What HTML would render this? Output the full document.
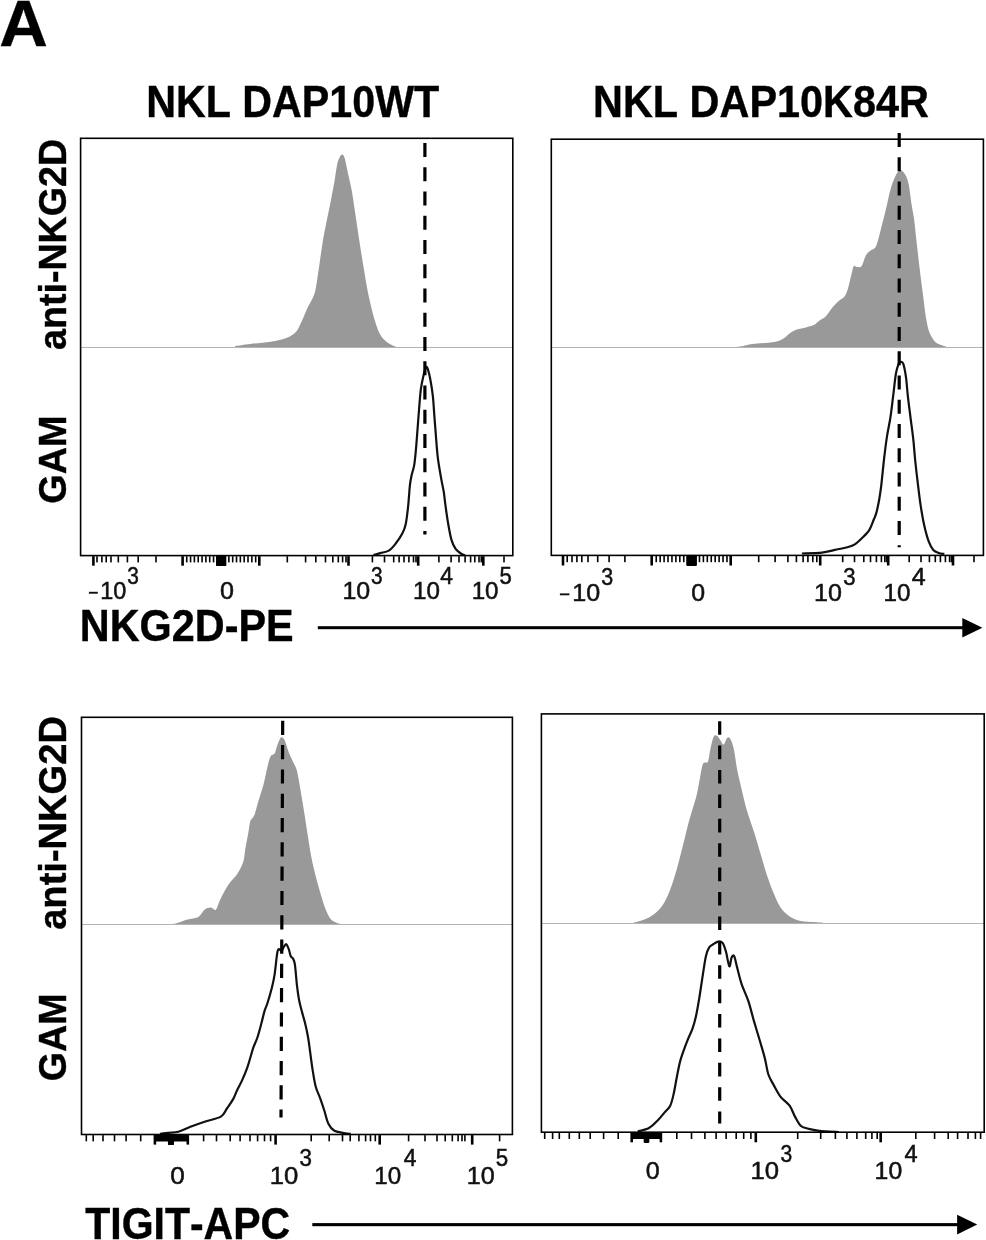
<!DOCTYPE html>
<html><head><meta charset="utf-8"><title>Figure A</title>
<style>html,body{margin:0;padding:0;background:#fff;width:986px;height:1240px;overflow:hidden;position:relative}
text{font-family:"Liberation Sans",sans-serif;font-kerning:none}
svg{will-change:transform}</style></head>
<body>
<svg width="986" height="1240" viewBox="0 0 986 1240" style="position:absolute;left:0;top:0" font-family='"Liberation Sans", sans-serif'>
<rect width="986" height="1240" fill="#fff"/>
<text x="-0.67" y="45.9" font-size="64.5" font-weight="bold" textLength="48.55" lengthAdjust="spacingAndGlyphs" stroke="#000" stroke-width="0.4">A</text>
<text x="146.14" y="116.8" font-size="43.7" font-weight="bold" textLength="293.1" lengthAdjust="spacingAndGlyphs" stroke="#000" stroke-width="0.4">NKL DAP10WT</text>
<text x="593.03" y="116.8" font-size="43.7" font-weight="bold" textLength="335.92" lengthAdjust="spacingAndGlyphs" stroke="#000" stroke-width="0.4">NKL DAP10K84R</text>
<text transform="translate(65.9,350) rotate(-90)" x="0" y="0" font-size="38.3" font-weight="bold" textLength="211.18" lengthAdjust="spacingAndGlyphs" stroke="#000" stroke-width="0.4">anti-NKG2D</text>
<text transform="translate(66,503.65) rotate(-90)" x="0" y="0" font-size="38.3" font-weight="bold" textLength="88.18" lengthAdjust="spacingAndGlyphs" stroke="#000" stroke-width="0.4">GAM</text>
<text transform="translate(66.1,929.82) rotate(-90)" x="0" y="0" font-size="38.3" font-weight="bold" textLength="213.72" lengthAdjust="spacingAndGlyphs" stroke="#000" stroke-width="0.4">anti-NKG2D</text>
<text transform="translate(66.1,1081.24) rotate(-90)" x="0" y="0" font-size="38.3" font-weight="bold" textLength="87.76" lengthAdjust="spacingAndGlyphs" stroke="#000" stroke-width="0.4">GAM</text>
<path d="M235.2,347.5 L235.2,345.9 C237.73,345.57 244.48,344.58 250.4,343.9 C256.32,343.22 264.62,342.82 270.7,341.8 C276.78,340.78 282.67,339.48 286.9,337.8 C291.13,336.12 293.73,334.23 296.1,331.7 C298.47,329.17 299.25,326.48 301.1,322.6 C302.95,318.72 305,313.13 307.2,308.4 C309.4,303.67 312.6,299.28 314.3,294.2 C316,289.12 316.38,284 317.4,277.9 C318.42,271.8 319.4,264.35 320.4,257.6 C321.4,250.85 322.22,244.15 323.4,237.4 C324.58,230.65 326.13,223.87 327.5,217.1 C328.87,210.33 330.42,202.88 331.6,196.8 C332.78,190.72 333.67,186.02 334.6,180.6 C335.53,175.18 336.35,168.2 337.2,164.3 C338.05,160.4 338.85,158.82 339.7,157.2 C340.55,155.58 341.47,154.42 342.3,154.6 C343.13,154.78 343.78,155.32 344.7,158.3 C345.62,161.28 346.62,167.1 347.8,172.5 C348.98,177.9 350.62,184.28 351.8,190.7 C352.98,197.12 353.88,204.23 354.9,211 C355.92,217.77 356.88,224.53 357.9,231.3 C358.92,238.07 359.98,245.18 361,251.6 C362.02,258.02 362.98,263.72 364,269.8 C365.02,275.88 366.08,282.68 367.1,288.1 C368.12,293.52 368.92,297.23 370.1,302.3 C371.28,307.37 372.68,313.43 374.2,318.5 C375.72,323.57 377.35,328.98 379.2,332.7 C381.05,336.42 383.1,338.7 385.3,340.8 C387.5,342.9 390.53,344.28 392.4,345.3 C394.27,346.32 395.82,346.63 396.5,346.9 L396.5,347.5 Z" fill="#999"/>
<path d="M730,347.5 L730,347.5 C732.23,347.23 739.68,346.47 743.4,345.9 C747.12,345.33 747.1,344.77 752.3,344.1 C757.5,343.43 769.4,342.83 774.6,341.9 C779.8,340.97 780.9,339.98 783.5,338.5 C786.1,337.02 787.97,334.48 790.2,333 C792.43,331.52 794.28,330.53 796.9,329.6 C799.52,328.67 803.1,328.15 805.9,327.4 C808.7,326.65 811.48,326.22 813.7,325.1 C815.92,323.98 817.17,322.18 819.2,320.7 C821.23,319.22 823.67,318.43 825.9,316.2 C828.13,313.97 830.37,309.9 832.6,307.3 C834.83,304.7 837.25,302.47 839.3,300.6 C841.35,298.73 843.4,298.33 844.9,296.1 C846.4,293.87 847.18,290.92 848.3,287.2 C849.42,283.48 850.68,277.33 851.6,273.8 C852.52,270.27 852.87,267.12 853.8,266 C854.73,264.88 855.9,267.1 857.2,267.1 C858.5,267.1 860.12,268.03 861.6,266 C863.08,263.97 864.6,257.5 866.1,254.9 C867.6,252.3 868.93,251.9 870.6,250.4 C872.27,248.9 874.25,249.98 876.1,245.9 C877.95,241.82 880.02,232.22 881.7,225.9 C883.38,219.58 884.72,214.15 886.2,208 C887.68,201.85 889.12,194.2 890.6,189 C892.08,183.8 893.8,179.77 895.1,176.8 C896.4,173.83 897.47,172.32 898.4,171.2 C899.33,170.08 899.58,169.55 900.7,170.1 C901.82,170.65 903.8,172.27 905.1,174.5 C906.4,176.73 907.38,178.28 908.5,183.5 C909.62,188.72 910.87,199.85 911.8,205.8 C912.73,211.75 913.35,213.63 914.1,219.2 C914.85,224.77 915.38,231.02 916.3,239.2 C917.22,247.38 918.48,259 919.6,268.3 C920.72,277.6 921.88,286.45 923,295 C924.12,303.55 925.18,313.27 926.3,319.6 C927.42,325.93 928.2,329.28 929.7,333 C931.2,336.72 933.25,339.87 935.3,341.9 C937.35,343.93 939.77,344.27 942,345.2 C944.23,346.13 947.58,347.12 948.7,347.5 L948.7,347.5 Z" fill="#999"/>
<path d="M168.1,924.5 L168.1,924.9 C169.8,924.55 175.25,923.65 178.3,922.8 C181.35,921.95 183.37,920.63 186.4,919.8 C189.43,918.97 194.13,918.65 196.5,917.8 C198.87,916.95 199.25,916.05 200.6,914.7 C201.95,913.35 202.92,910.88 204.6,909.7 C206.28,908.52 208.83,907.6 210.7,907.6 C212.57,907.6 214.28,910.88 215.8,909.7 C217.32,908.52 218.28,903.72 219.8,900.5 C221.32,897.28 223.03,893.6 224.9,890.4 C226.77,887.2 228.97,884 231,881.3 C233.03,878.6 235.07,877.42 237.1,874.2 C239.13,870.98 241.85,866.07 243.2,862 C244.55,857.93 244.37,854.53 245.2,849.8 C246.03,845.07 247.35,838.33 248.2,833.6 C249.05,828.87 249.28,824.45 250.3,821.4 C251.32,818.35 252.95,818.68 254.3,815.3 C255.65,811.92 256.88,806.17 258.4,801.1 C259.92,796.03 261.88,790.63 263.4,784.9 C264.92,779.17 266.32,771.43 267.5,766.7 C268.68,761.97 269.32,758.7 270.5,756.5 C271.68,754.3 273.58,755.02 274.6,753.5 C275.62,751.98 275.75,749.77 276.6,747.4 C277.45,745.03 278.85,741 279.7,739.3 C280.55,737.6 280.87,737.03 281.7,737.2 C282.53,737.37 283.52,737.75 284.7,740.3 C285.88,742.85 287.27,748.62 288.8,752.5 C290.33,756.38 292.55,760.57 293.9,763.6 C295.25,766.63 295.88,766.82 296.9,770.7 C297.92,774.58 299.15,782.17 300,786.9 C300.85,791.63 301.17,794.02 302,799.1 C302.83,804.18 303.98,810.98 305,817.4 C306.02,823.82 307.08,831.18 308.1,837.6 C309.12,844.02 309.92,849.8 311.1,855.9 C312.28,862 313.68,868.12 315.2,874.2 C316.72,880.28 318.52,886.67 320.2,892.4 C321.88,898.13 323.6,904.2 325.3,908.6 C327,913 328.53,916.43 330.4,918.8 C332.27,921.17 334.47,921.85 336.5,922.8 C338.53,923.75 341.58,924.22 342.6,924.5 L342.6,924.5 Z" fill="#999"/>
<path d="M633.4,923.5 L633.4,922.7 C634.52,922.4 637.5,921.77 640.1,920.9 C642.7,920.03 646.03,919.18 649,917.5 C651.97,915.82 655.3,913.4 657.9,910.8 C660.5,908.2 662.55,905.43 664.6,901.9 C666.65,898.37 668.52,893.87 670.2,889.6 C671.88,885.33 673.22,881.13 674.7,876.3 C676.18,871.47 677.62,866.18 679.1,860.6 C680.58,855.02 682.12,848.75 683.6,842.8 C685.08,836.85 686.52,830.48 688,824.9 C689.48,819.32 691,814.5 692.5,809.3 C694,804.1 695.7,799.27 697,793.7 C698.3,788.13 699.37,780.73 700.3,775.9 C701.23,771.07 701.85,766.93 702.6,764.7 C703.35,762.47 703.88,763.05 704.8,762.5 C705.72,761.95 707.17,763.63 708.1,761.4 C709.03,759.17 709.47,753.2 710.4,749.1 C711.33,745 712.58,739.03 713.7,736.8 C714.82,734.57 715.98,735.13 717.1,735.7 C718.22,736.27 719.3,738.72 720.4,740.2 C721.5,741.68 722.58,744.98 723.7,744.6 C724.82,744.22 725.98,738.83 727.1,737.9 C728.22,736.97 729.28,737.13 730.4,739 C731.52,740.87 732.68,744.07 733.8,749.1 C734.92,754.13 735.8,762.52 737.1,769.2 C738.4,775.88 739.92,782.13 741.6,789.2 C743.28,796.27 745.15,804.53 747.2,811.6 C749.25,818.67 751.67,824.53 753.9,831.6 C756.13,838.67 758.37,846.55 760.6,854 C762.83,861.45 765.07,869.62 767.3,876.3 C769.53,882.98 771.78,888.9 774,894.1 C776.22,899.3 778,903.78 780.6,907.5 C783.2,911.22 786.25,914.17 789.6,916.4 C792.95,918.63 796.62,919.97 800.7,920.9 C804.78,921.83 810.38,921.7 814.1,922 C817.82,922.3 821.52,922.58 823,922.7 L823,923.5 Z" fill="#999"/>
<rect x="80.5" y="347" width="432" height="1" fill="#b3b3b3"/>
<rect x="551.5" y="347" width="432" height="1" fill="#b3b3b3"/>
<rect x="81.5" y="924" width="431" height="1" fill="#b3b3b3"/>
<rect x="541.5" y="923" width="442.5" height="1" fill="#b3b3b3"/>
<path d="M373.5,555.1 C374.63,554.77 377.75,553.85 380.3,553.1 C382.85,552.35 386.27,552.15 388.8,550.6 C391.33,549.05 393.25,546.63 395.5,543.8 C397.75,540.97 400.6,536.85 402.3,533.6 C404,530.35 404.72,528.95 405.7,524.3 C406.68,519.65 407.5,512.18 408.2,505.7 C408.9,499.22 409.33,490.47 409.9,485.4 C410.47,480.33 410.88,478.68 411.6,475.3 C412.32,471.92 413.48,469.33 414.2,465.1 C414.92,460.87 415.35,455.82 415.9,449.9 C416.45,443.98 416.95,436.67 417.5,429.6 C418.05,422.53 418.63,414.28 419.2,407.5 C419.77,400.72 420.18,394.25 420.9,388.9 C421.62,383.55 422.7,378.92 423.5,375.4 C424.3,371.88 425.22,369.22 425.7,367.8 C426.18,366.38 426.07,366.77 426.4,366.9 C426.73,367.03 427.07,366.62 427.7,368.6 C428.33,370.58 429.35,374.28 430.2,378.8 C431.05,383.32 432.08,389.22 432.8,395.7 C433.52,402.18 433.93,410.37 434.5,417.7 C435.07,425.03 435.63,432.93 436.2,439.7 C436.77,446.47 437.07,451.82 437.9,458.3 C438.73,464.78 440.22,472.95 441.2,478.6 C442.18,484.25 443.08,487.68 443.8,492.2 C444.52,496.72 444.8,500.63 445.5,505.7 C446.2,510.77 447.02,516.95 448,522.6 C448.98,528.25 450.13,535.22 451.4,539.6 C452.67,543.98 453.9,546.5 455.6,548.9 C457.3,551.3 460.03,552.97 461.6,554 C463.17,555.03 464.43,554.92 465,555.1" fill="none" stroke="#111" stroke-width="2.2" stroke-linejoin="round"/>
<path d="M801.9,553.5 C805.25,553.35 816.52,553.2 822,552.6 C827.48,552 830.55,550.8 834.8,549.9 C839.05,549 844.17,548.12 847.5,547.2 C850.83,546.28 852.37,545.93 854.8,544.4 C857.23,542.87 859.67,540.43 862.1,538 C864.53,535.57 867.45,532.88 869.4,529.8 C871.35,526.72 872.67,522.23 873.8,519.5 C874.93,516.77 875.57,515.4 876.2,513.4 C876.83,511.4 877.08,509.9 877.6,507.5 C878.12,505.1 878.68,502.73 879.3,499 C879.92,495.27 880.52,491.68 881.3,485.1 C882.08,478.52 883.08,467.42 884,459.5 C884.92,451.58 885.73,444.6 886.8,437.6 C887.87,430.6 889.33,424.5 890.4,417.5 C891.47,410.5 892.28,402.9 893.2,395.6 C894.12,388.3 894.98,379.02 895.9,373.7 C896.82,368.38 897.93,365.67 898.7,363.7 C899.47,361.73 899.75,361.9 900.5,361.9 C901.25,361.9 902.28,361.12 903.2,363.7 C904.12,366.28 905.23,372.08 906,377.4 C906.77,382.72 907.05,388.92 907.8,395.6 C908.55,402.28 909.58,410.2 910.5,417.5 C911.42,424.8 912.53,432.4 913.3,439.4 C914.07,446.4 914.35,452.18 915.1,459.5 C915.85,466.82 916.88,475.68 917.8,483.3 C918.72,490.92 919.53,498.22 920.6,505.2 C921.67,512.18 922.83,519.12 924.2,525.2 C925.57,531.28 927.28,537.58 928.8,541.7 C930.32,545.82 931.63,548.02 933.3,549.9 C934.97,551.78 936.97,552.33 938.8,553 C940.63,553.67 943.38,553.75 944.3,553.9" fill="none" stroke="#111" stroke-width="2.2" stroke-linejoin="round"/>
<path d="M160,1133.9 C161.35,1133.72 165.05,1133.15 168.1,1132.8 C171.15,1132.45 174.58,1132.8 178.3,1131.8 C182.02,1130.8 186.02,1128.48 190.4,1126.8 C194.78,1125.12 199.52,1123.4 204.6,1121.7 C209.68,1120 217.18,1118.8 220.9,1116.6 C224.62,1114.4 224.88,1111.37 226.9,1108.5 C228.92,1105.63 231.3,1102.45 233,1099.4 C234.7,1096.35 235.57,1093.42 237.1,1090.2 C238.63,1086.98 240.52,1083.82 242.2,1080.1 C243.88,1076.38 245.85,1071.62 247.2,1067.9 C248.55,1064.18 249.28,1061.18 250.3,1057.8 C251.32,1054.42 252.12,1050.98 253.3,1047.6 C254.48,1044.22 256.05,1041.55 257.4,1037.5 C258.75,1033.45 260.22,1027.7 261.4,1023.3 C262.58,1018.9 263.48,1014.48 264.5,1011.1 C265.52,1007.72 266.32,1006.72 267.5,1003 C268.68,999.28 270.42,993.53 271.6,988.8 C272.78,984.07 273.6,980.85 274.6,974.6 C275.6,968.35 276.58,955.35 277.6,951.3 C278.62,947.25 280.02,950.3 280.7,950.3 C281.38,950.3 281.2,951.82 281.7,951.3 C282.2,950.78 282.95,948.38 283.7,947.2 C284.45,946.02 285.35,943.85 286.2,944.2 C287.05,944.55 288.03,947.27 288.8,949.3 C289.57,951.33 290.12,954.88 290.8,956.4 C291.48,957.92 292.22,957.05 292.9,958.4 C293.58,959.75 294.23,960.1 294.9,964.5 C295.57,968.9 296.23,979.05 296.9,984.8 C297.57,990.55 298.18,994.95 298.9,999 C299.62,1003.05 300.17,1005.05 301.2,1009.1 C302.23,1013.15 303.95,1018.57 305.1,1023.3 C306.25,1028.03 307.27,1032.77 308.1,1037.5 C308.93,1042.23 309.4,1046.63 310.1,1051.7 C310.8,1056.77 311.38,1062.15 312.3,1067.9 C313.22,1073.65 314.28,1081.12 315.6,1086.2 C316.92,1091.28 318.75,1094.35 320.2,1098.4 C321.65,1102.45 322.93,1106.28 324.3,1110.5 C325.67,1114.72 326.72,1120.32 328.4,1123.7 C330.08,1127.08 332.03,1129.28 334.4,1130.8 C336.77,1132.32 339.88,1132.28 342.6,1132.8 C345.32,1133.32 349.35,1133.72 350.7,1133.9" fill="none" stroke="#111" stroke-width="2.2" stroke-linejoin="round"/>
<path d="M637.8,1131.4 C639.67,1130.83 645.65,1129.87 649,1128 C652.35,1126.13 655.3,1122.8 657.9,1120.2 C660.5,1117.6 662.55,1114.82 664.6,1112.4 C666.65,1109.98 668.72,1108.67 670.2,1105.7 C671.68,1102.73 672.38,1099.43 673.5,1094.6 C674.62,1089.77 675.78,1082.28 676.9,1076.7 C678.02,1071.12 678.9,1065.93 680.2,1061.1 C681.5,1056.27 683.38,1051.42 684.7,1047.7 C686.02,1043.98 686.8,1041.97 688.1,1038.8 C689.4,1035.63 691.2,1032.42 692.5,1028.7 C693.8,1024.98 694.78,1021.52 695.9,1016.5 C697.02,1011.48 698.08,1005.3 699.2,998.6 C700.32,991.9 701.48,983.37 702.6,976.3 C703.72,969.23 704.8,961.03 705.9,956.2 C707,951.37 707.9,949.33 709.2,947.3 C710.5,945.27 712.2,944.93 713.7,944 C715.2,943.07 716.72,941.9 718.2,941.7 C719.68,941.5 721.3,941.12 722.6,942.8 C723.9,944.48 724.88,947.88 726,951.8 C727.12,955.72 728.37,965.37 729.3,966.3 C730.23,967.23 730.78,959.08 731.6,957.4 C732.42,955.72 733.28,954.53 734.2,956.2 C735.12,957.87 735.87,962.75 737.1,967.4 C738.33,972.05 739.73,978.52 741.6,984.1 C743.47,989.68 746.25,994.77 748.3,1000.9 C750.35,1007.03 751.85,1013.83 753.9,1020.9 C755.95,1027.97 758.75,1036.97 760.6,1043.3 C762.45,1049.63 763.7,1053.7 765,1058.9 C766.3,1064.1 766.9,1070.05 768.4,1074.5 C769.9,1078.95 771.97,1081.88 774,1085.6 C776.03,1089.32 778,1093.45 780.6,1096.8 C783.2,1100.15 787.18,1102.35 789.6,1105.7 C792.02,1109.05 793.25,1113.55 795.1,1116.9 C796.95,1120.25 798.65,1123.87 800.7,1125.8 C802.75,1127.73 804.8,1127.75 807.4,1128.5 C810,1129.25 813.32,1129.82 816.3,1130.3 C819.28,1130.78 821.57,1131.12 825.3,1131.4 C829.03,1131.68 836.47,1131.9 838.7,1132" fill="none" stroke="#111" stroke-width="2.2" stroke-linejoin="round"/>
<rect x="80.6" y="138.3" width="432.2" height="417.3" fill="none" stroke="#000" stroke-width="1.6"/>
<rect x="551.3" y="139.2" width="432.1" height="416.2" fill="none" stroke="#000" stroke-width="1.6"/>
<rect x="81.5" y="717.3" width="430.9" height="417.2" fill="none" stroke="#000" stroke-width="1.6"/>
<rect x="541.4" y="713.9" width="442.8" height="418.3" fill="none" stroke="#000" stroke-width="1.6"/>
<g fill="#000"><rect x="216.57" y="556.2" width="9.26" height="9.5"/><rect x="220.28" y="556.2" width="2.6" height="9.5"/><rect x="219.52" y="556.2" width="2.6" height="9.5"/><rect x="220.67" y="556.2" width="2.6" height="9.5"/><rect x="219.13" y="556.2" width="2.6" height="9.5"/><rect x="221.05" y="556.2" width="2.6" height="9.5"/><rect x="218.75" y="556.2" width="2.6" height="9.5"/><rect x="221.43" y="556.2" width="2.6" height="9.5"/><rect x="218.37" y="556.2" width="2.6" height="9.5"/><rect x="221.81" y="556.2" width="2.6" height="9.5"/><rect x="217.98" y="556.2" width="2.6" height="9.5"/><rect x="222.2" y="556.2" width="2.6" height="9.5"/><rect x="217.6" y="556.2" width="2.6" height="9.5"/><rect x="222.58" y="556.2" width="2.6" height="9.5"/><rect x="217.22" y="556.2" width="2.6" height="9.5"/><rect x="222.96" y="556.2" width="2.6" height="9.5"/><rect x="216.84" y="556.2" width="2.6" height="9.5"/><rect x="223.35" y="556.2" width="2.6" height="9.5"/><rect x="216.45" y="556.2" width="2.6" height="9.5"/><rect x="223.73" y="556.2" width="2.6" height="9.5"/><rect x="216.07" y="556.2" width="2.6" height="9.5"/><rect x="228.06" y="556.2" width="1.6" height="6.2"/><rect x="212.74" y="556.2" width="1.6" height="6.2"/><rect x="231.89" y="556.2" width="1.6" height="6.2"/><rect x="208.91" y="556.2" width="1.6" height="6.2"/><rect x="235.72" y="556.2" width="1.6" height="6.2"/><rect x="205.08" y="556.2" width="1.6" height="6.2"/><rect x="239.55" y="556.2" width="1.6" height="6.2"/><rect x="201.25" y="556.2" width="1.6" height="6.2"/><rect x="243.38" y="556.2" width="1.6" height="6.2"/><rect x="197.42" y="556.2" width="1.6" height="6.2"/><rect x="247.21" y="556.2" width="1.6" height="6.2"/><rect x="193.59" y="556.2" width="1.6" height="6.2"/><rect x="251.04" y="556.2" width="1.6" height="6.2"/><rect x="189.76" y="556.2" width="1.6" height="6.2"/><rect x="254.87" y="556.2" width="1.6" height="6.2"/><rect x="185.93" y="556.2" width="1.6" height="6.2"/><rect x="219.9" y="556.2" width="2.6" height="9.5"/><rect x="258" y="556.2" width="2.6" height="9.5"/><rect x="286.5" y="556.2" width="1.6" height="6.2"/><rect x="304.8" y="556.2" width="1.6" height="6.2"/><rect x="315" y="556.2" width="1.6" height="6.2"/><rect x="324.7" y="556.2" width="1.6" height="6.2"/><rect x="332" y="556.2" width="1.6" height="6.2"/><rect x="337.5" y="556.2" width="1.6" height="6.2"/><rect x="341.8" y="556.2" width="1.6" height="6.2"/><rect x="345.2" y="556.2" width="1.6" height="6.2"/><rect x="347.2" y="556.2" width="2.6" height="9.5"/><rect x="371.6" y="556.2" width="1.6" height="6.2"/><rect x="383.7" y="556.2" width="1.6" height="6.2"/><rect x="392.9" y="556.2" width="1.6" height="6.2"/><rect x="398.3" y="556.2" width="1.6" height="6.2"/><rect x="403.2" y="556.2" width="1.6" height="6.2"/><rect x="408.1" y="556.2" width="1.6" height="6.2"/><rect x="412.7" y="556.2" width="1.6" height="6.2"/><rect x="415.2" y="556.2" width="1.6" height="6.2"/><rect x="416.9" y="556.2" width="2.6" height="9.5"/><rect x="438.1" y="556.2" width="1.6" height="6.2"/><rect x="450.3" y="556.2" width="1.6" height="6.2"/><rect x="458.2" y="556.2" width="1.6" height="6.2"/><rect x="464.3" y="556.2" width="1.6" height="6.2"/><rect x="469.8" y="556.2" width="1.6" height="6.2"/><rect x="474" y="556.2" width="1.6" height="6.2"/><rect x="478.2" y="556.2" width="1.6" height="6.2"/><rect x="480.5" y="556.2" width="1.6" height="6.2"/><rect x="482" y="556.2" width="2.6" height="9.5"/><rect x="503.2" y="556.2" width="1.6" height="6.2"/><rect x="181.3" y="556.2" width="2.6" height="9.5"/><rect x="155.2" y="556.2" width="1.6" height="6.2"/><rect x="137.4" y="556.2" width="1.6" height="6.2"/><rect x="126.6" y="556.2" width="1.6" height="6.2"/><rect x="117.5" y="556.2" width="1.6" height="6.2"/><rect x="110.2" y="556.2" width="1.6" height="6.2"/><rect x="105.4" y="556.2" width="1.6" height="6.2"/><rect x="101.1" y="556.2" width="1.6" height="6.2"/><rect x="96.2" y="556.2" width="1.6" height="6.2"/><rect x="92.1" y="556.2" width="2.6" height="9.5"/></g>
<g fill="#000"><rect x="686.87" y="556" width="9.46" height="9.5"/><rect x="690.69" y="556" width="2.6" height="9.5"/><rect x="689.91" y="556" width="2.6" height="9.5"/><rect x="691.09" y="556" width="2.6" height="9.5"/><rect x="689.51" y="556" width="2.6" height="9.5"/><rect x="691.48" y="556" width="2.6" height="9.5"/><rect x="689.12" y="556" width="2.6" height="9.5"/><rect x="691.87" y="556" width="2.6" height="9.5"/><rect x="688.73" y="556" width="2.6" height="9.5"/><rect x="692.27" y="556" width="2.6" height="9.5"/><rect x="688.34" y="556" width="2.6" height="9.5"/><rect x="692.66" y="556" width="2.6" height="9.5"/><rect x="687.94" y="556" width="2.6" height="9.5"/><rect x="693.05" y="556" width="2.6" height="9.5"/><rect x="687.55" y="556" width="2.6" height="9.5"/><rect x="693.44" y="556" width="2.6" height="9.5"/><rect x="687.16" y="556" width="2.6" height="9.5"/><rect x="693.84" y="556" width="2.6" height="9.5"/><rect x="686.76" y="556" width="2.6" height="9.5"/><rect x="694.23" y="556" width="2.6" height="9.5"/><rect x="686.37" y="556" width="2.6" height="9.5"/><rect x="698.66" y="556" width="1.6" height="6.2"/><rect x="682.94" y="556" width="1.6" height="6.2"/><rect x="702.59" y="556" width="1.6" height="6.2"/><rect x="679.01" y="556" width="1.6" height="6.2"/><rect x="706.52" y="556" width="1.6" height="6.2"/><rect x="675.08" y="556" width="1.6" height="6.2"/><rect x="710.45" y="556" width="1.6" height="6.2"/><rect x="671.15" y="556" width="1.6" height="6.2"/><rect x="714.38" y="556" width="1.6" height="6.2"/><rect x="667.22" y="556" width="1.6" height="6.2"/><rect x="718.31" y="556" width="1.6" height="6.2"/><rect x="663.29" y="556" width="1.6" height="6.2"/><rect x="722.24" y="556" width="1.6" height="6.2"/><rect x="659.36" y="556" width="1.6" height="6.2"/><rect x="726.17" y="556" width="1.6" height="6.2"/><rect x="655.43" y="556" width="1.6" height="6.2"/><rect x="690.3" y="556" width="2.6" height="9.5"/><rect x="729.4" y="556" width="2.6" height="9.5"/><rect x="757.9" y="556" width="1.6" height="6.2"/><rect x="774.3" y="556" width="1.6" height="6.2"/><rect x="787.1" y="556" width="1.6" height="6.2"/><rect x="795.6" y="556" width="1.6" height="6.2"/><rect x="802.3" y="556" width="1.6" height="6.2"/><rect x="807.1" y="556" width="1.6" height="6.2"/><rect x="812" y="556" width="1.6" height="6.2"/><rect x="816" y="556" width="1.6" height="6.2"/><rect x="818.9" y="556" width="2.6" height="9.5"/><rect x="841.9" y="556" width="1.6" height="6.2"/><rect x="853.7" y="556" width="1.6" height="6.2"/><rect x="863" y="556" width="1.6" height="6.2"/><rect x="869.7" y="556" width="1.6" height="6.2"/><rect x="875.6" y="556" width="1.6" height="6.2"/><rect x="880.6" y="556" width="1.6" height="6.2"/><rect x="884" y="556" width="1.6" height="6.2"/><rect x="885.8" y="556" width="1.6" height="6.2"/><rect x="886.9" y="556" width="2.6" height="9.5"/><rect x="908.4" y="556" width="1.6" height="6.2"/><rect x="920.2" y="556" width="1.6" height="6.2"/><rect x="928.6" y="556" width="1.6" height="6.2"/><rect x="934.5" y="556" width="1.6" height="6.2"/><rect x="939.6" y="556" width="1.6" height="6.2"/><rect x="944.6" y="556" width="1.6" height="6.2"/><rect x="948.8" y="556" width="1.6" height="6.2"/><rect x="950.6" y="556" width="1.6" height="6.2"/><rect x="951.7" y="556" width="2.6" height="9.5"/><rect x="973.2" y="556" width="1.6" height="6.2"/><rect x="650.4" y="556" width="2.6" height="9.5"/><rect x="624.1" y="556" width="1.6" height="6.2"/><rect x="608.3" y="556" width="1.6" height="6.2"/><rect x="596.9" y="556" width="1.6" height="6.2"/><rect x="587.2" y="556" width="1.6" height="6.2"/><rect x="581" y="556" width="1.6" height="6.2"/><rect x="576.1" y="556" width="1.6" height="6.2"/><rect x="571.2" y="556" width="1.6" height="6.2"/><rect x="566.4" y="556" width="1.6" height="6.2"/><rect x="561.7" y="556" width="2.6" height="9.5"/></g>
<g fill="#000"><rect x="154.3" y="1135.1" width="33.2" height="6.2"/><rect x="169.77" y="1135.1" width="2.6" height="9.5"/><rect x="169.43" y="1135.1" width="2.6" height="9.5"/><rect x="169.93" y="1135.1" width="2.6" height="9.5"/><rect x="169.27" y="1135.1" width="2.6" height="9.5"/><rect x="170.1" y="1135.1" width="2.6" height="9.5"/><rect x="169.1" y="1135.1" width="2.6" height="9.5"/><rect x="170.26" y="1135.1" width="2.6" height="9.5"/><rect x="168.94" y="1135.1" width="2.6" height="9.5"/><rect x="170.43" y="1135.1" width="2.6" height="9.5"/><rect x="168.77" y="1135.1" width="2.6" height="9.5"/><rect x="170.6" y="1135.1" width="2.6" height="9.5"/><rect x="168.6" y="1135.1" width="2.6" height="9.5"/><rect x="170.76" y="1135.1" width="2.6" height="9.5"/><rect x="168.44" y="1135.1" width="2.6" height="9.5"/><rect x="170.93" y="1135.1" width="2.6" height="9.5"/><rect x="168.27" y="1135.1" width="2.6" height="9.5"/><rect x="171.09" y="1135.1" width="2.6" height="9.5"/><rect x="168.11" y="1135.1" width="2.6" height="9.5"/><rect x="171.26" y="1135.1" width="2.6" height="9.5"/><rect x="167.94" y="1135.1" width="2.6" height="9.5"/><rect x="173.42" y="1135.1" width="1.6" height="6.2"/><rect x="166.78" y="1135.1" width="1.6" height="6.2"/><rect x="175.08" y="1135.1" width="1.6" height="6.2"/><rect x="165.12" y="1135.1" width="1.6" height="6.2"/><rect x="176.74" y="1135.1" width="1.6" height="6.2"/><rect x="163.46" y="1135.1" width="1.6" height="6.2"/><rect x="178.4" y="1135.1" width="1.6" height="6.2"/><rect x="161.8" y="1135.1" width="1.6" height="6.2"/><rect x="180.06" y="1135.1" width="1.6" height="6.2"/><rect x="160.14" y="1135.1" width="1.6" height="6.2"/><rect x="181.72" y="1135.1" width="1.6" height="6.2"/><rect x="158.48" y="1135.1" width="1.6" height="6.2"/><rect x="183.38" y="1135.1" width="1.6" height="6.2"/><rect x="156.82" y="1135.1" width="1.6" height="6.2"/><rect x="185.04" y="1135.1" width="1.6" height="6.2"/><rect x="155.16" y="1135.1" width="1.6" height="6.2"/><rect x="169.6" y="1135.1" width="2.6" height="9.5"/><rect x="186.5" y="1135.1" width="2.6" height="9.5"/><rect x="202.8" y="1135.1" width="1.6" height="6.2"/><rect x="215.7" y="1135.1" width="1.6" height="6.2"/><rect x="229.4" y="1135.1" width="1.6" height="6.2"/><rect x="239.3" y="1135.1" width="1.6" height="6.2"/><rect x="249.2" y="1135.1" width="1.6" height="6.2"/><rect x="256.8" y="1135.1" width="1.6" height="6.2"/><rect x="263.7" y="1135.1" width="1.6" height="6.2"/><rect x="269.8" y="1135.1" width="1.6" height="6.2"/><rect x="274.3" y="1135.1" width="2.6" height="9.5"/><rect x="310.4" y="1135.1" width="1.6" height="6.2"/><rect x="328.4" y="1135.1" width="1.6" height="6.2"/><rect x="341.7" y="1135.1" width="1.6" height="6.2"/><rect x="349.4" y="1135.1" width="1.6" height="6.2"/><rect x="358.1" y="1135.1" width="1.6" height="6.2"/><rect x="364.8" y="1135.1" width="1.6" height="6.2"/><rect x="369.7" y="1135.1" width="1.6" height="6.2"/><rect x="374.5" y="1135.1" width="1.6" height="6.2"/><rect x="378.4" y="1135.1" width="2.6" height="9.5"/><rect x="407.8" y="1135.1" width="1.6" height="6.2"/><rect x="424.2" y="1135.1" width="1.6" height="6.2"/><rect x="436.2" y="1135.1" width="1.6" height="6.2"/><rect x="444.4" y="1135.1" width="1.6" height="6.2"/><rect x="451.5" y="1135.1" width="1.6" height="6.2"/><rect x="457.3" y="1135.1" width="1.6" height="6.2"/><rect x="461.2" y="1135.1" width="1.6" height="6.2"/><rect x="464.1" y="1135.1" width="1.6" height="6.2"/><rect x="470.9" y="1135.1" width="2.6" height="9.5"/><rect x="498.8" y="1135.1" width="1.6" height="6.2"/><rect x="153.6" y="1135.1" width="2.6" height="9.5"/><rect x="139.9" y="1135.1" width="1.6" height="6.2"/><rect x="125.3" y="1135.1" width="1.6" height="6.2"/><rect x="113.7" y="1135.1" width="1.6" height="6.2"/><rect x="102.2" y="1135.1" width="1.6" height="6.2"/><rect x="92.4" y="1135.1" width="1.6" height="6.2"/><rect x="85.5" y="1135.1" width="1.6" height="6.2"/></g>
<g fill="#000"><rect x="631.9" y="1132.8" width="29.2" height="6.2"/><rect x="645.35" y="1132.8" width="2.6" height="9.5"/><rect x="645.05" y="1132.8" width="2.6" height="9.5"/><rect x="645.49" y="1132.8" width="2.6" height="9.5"/><rect x="644.91" y="1132.8" width="2.6" height="9.5"/><rect x="645.64" y="1132.8" width="2.6" height="9.5"/><rect x="644.76" y="1132.8" width="2.6" height="9.5"/><rect x="645.78" y="1132.8" width="2.6" height="9.5"/><rect x="644.62" y="1132.8" width="2.6" height="9.5"/><rect x="645.93" y="1132.8" width="2.6" height="9.5"/><rect x="644.47" y="1132.8" width="2.6" height="9.5"/><rect x="646.08" y="1132.8" width="2.6" height="9.5"/><rect x="644.32" y="1132.8" width="2.6" height="9.5"/><rect x="646.22" y="1132.8" width="2.6" height="9.5"/><rect x="644.18" y="1132.8" width="2.6" height="9.5"/><rect x="646.37" y="1132.8" width="2.6" height="9.5"/><rect x="644.03" y="1132.8" width="2.6" height="9.5"/><rect x="646.51" y="1132.8" width="2.6" height="9.5"/><rect x="643.89" y="1132.8" width="2.6" height="9.5"/><rect x="646.66" y="1132.8" width="2.6" height="9.5"/><rect x="643.74" y="1132.8" width="2.6" height="9.5"/><rect x="648.62" y="1132.8" width="1.6" height="6.2"/><rect x="642.78" y="1132.8" width="1.6" height="6.2"/><rect x="650.08" y="1132.8" width="1.6" height="6.2"/><rect x="641.32" y="1132.8" width="1.6" height="6.2"/><rect x="651.54" y="1132.8" width="1.6" height="6.2"/><rect x="639.86" y="1132.8" width="1.6" height="6.2"/><rect x="653" y="1132.8" width="1.6" height="6.2"/><rect x="638.4" y="1132.8" width="1.6" height="6.2"/><rect x="654.46" y="1132.8" width="1.6" height="6.2"/><rect x="636.94" y="1132.8" width="1.6" height="6.2"/><rect x="655.92" y="1132.8" width="1.6" height="6.2"/><rect x="635.48" y="1132.8" width="1.6" height="6.2"/><rect x="657.38" y="1132.8" width="1.6" height="6.2"/><rect x="634.02" y="1132.8" width="1.6" height="6.2"/><rect x="658.84" y="1132.8" width="1.6" height="6.2"/><rect x="632.56" y="1132.8" width="1.6" height="6.2"/><rect x="645.2" y="1132.8" width="2.6" height="9.5"/><rect x="659.6" y="1132.8" width="2.6" height="9.5"/><rect x="676" y="1132.8" width="1.6" height="6.2"/><rect x="690.7" y="1132.8" width="1.6" height="6.2"/><rect x="704.1" y="1132.8" width="1.6" height="6.2"/><rect x="715.3" y="1132.8" width="1.6" height="6.2"/><rect x="725.3" y="1132.8" width="1.6" height="6.2"/><rect x="735.4" y="1132.8" width="1.6" height="6.2"/><rect x="742.9" y="1132.8" width="1.6" height="6.2"/><rect x="750.1" y="1132.8" width="1.6" height="6.2"/><rect x="754.5" y="1132.8" width="2.6" height="9.5"/><rect x="796.9" y="1132.8" width="1.6" height="6.2"/><rect x="819.9" y="1132.8" width="1.6" height="6.2"/><rect x="834.6" y="1132.8" width="1.6" height="6.2"/><rect x="846.1" y="1132.8" width="1.6" height="6.2"/><rect x="856.1" y="1132.8" width="1.6" height="6.2"/><rect x="864.9" y="1132.8" width="1.6" height="6.2"/><rect x="871.1" y="1132.8" width="1.6" height="6.2"/><rect x="876.4" y="1132.8" width="1.6" height="6.2"/><rect x="879.4" y="1132.8" width="2.6" height="9.5"/><rect x="915" y="1132.8" width="1.6" height="6.2"/><rect x="933.8" y="1132.8" width="1.6" height="6.2"/><rect x="947.4" y="1132.8" width="1.6" height="6.2"/><rect x="956.8" y="1132.8" width="1.6" height="6.2"/><rect x="967.2" y="1132.8" width="1.6" height="6.2"/><rect x="974.6" y="1132.8" width="1.6" height="6.2"/><rect x="979.8" y="1132.8" width="1.6" height="6.2"/><rect x="630.4" y="1132.8" width="2.6" height="9.5"/><rect x="617.4" y="1132.8" width="1.6" height="6.2"/><rect x="602.8" y="1132.8" width="1.6" height="6.2"/><rect x="589.4" y="1132.8" width="1.6" height="6.2"/><rect x="578.5" y="1132.8" width="1.6" height="6.2"/><rect x="568.5" y="1132.8" width="1.6" height="6.2"/><rect x="558.5" y="1132.8" width="1.6" height="6.2"/><rect x="551.8" y="1132.8" width="1.6" height="6.2"/><rect x="543.9" y="1132.8" width="1.6" height="6.2"/></g>
<line x1="424.9" y1="143.1" x2="424.9" y2="534.5" stroke="#000" stroke-width="3.2" stroke-dasharray="13.8 10.45"/>
<line x1="899.2" y1="133.1" x2="899.2" y2="547.2" stroke="#000" stroke-width="3.2" stroke-dasharray="13.8 10.45"/>
<line x1="282.7" y1="720.8" x2="281" y2="1117.6" stroke="#000" stroke-width="3.2" stroke-dasharray="14.2 10.1"/>
<line x1="719.7" y1="721.2" x2="719.7" y2="1123.6" stroke="#000" stroke-width="3.2" stroke-dasharray="13.6 10.8"/>
<g fill="#111" stroke="#111" stroke-width="0.5">
<text x="100.31" y="599.2" font-size="23" textLength="26.1" lengthAdjust="spacingAndGlyphs">10</text>
<text x="127.3" y="583.6" font-size="23" textLength="11.61" lengthAdjust="spacingAndGlyphs">3</text>
<rect x="88.9" y="591.8" width="8.9" height="1.9" stroke="none"/>
<text x="220.02" y="599.2" font-size="23" textLength="13.96" lengthAdjust="spacingAndGlyphs">0</text>
<text x="342.4" y="599.2" font-size="23" textLength="27.78" lengthAdjust="spacingAndGlyphs">10</text>
<text x="371.1" y="583.6" font-size="23" textLength="11.61" lengthAdjust="spacingAndGlyphs">3</text>
<text x="412.96" y="599.2" font-size="23" textLength="26.89" lengthAdjust="spacingAndGlyphs">10</text>
<text x="440.28" y="583.6" font-size="23" textLength="12.69" lengthAdjust="spacingAndGlyphs">4</text>
<text x="471.66" y="599.2" font-size="23" textLength="26.89" lengthAdjust="spacingAndGlyphs">10</text>
<text x="499.61" y="583.6" font-size="23" textLength="12.32" lengthAdjust="spacingAndGlyphs">5</text>
<text x="572.19" y="600.5" font-size="23" textLength="27.89" lengthAdjust="spacingAndGlyphs">10</text>
<text x="601.28" y="584.7" font-size="23" textLength="11.96" lengthAdjust="spacingAndGlyphs">3</text>
<rect x="559.9" y="593.4" width="9.5" height="1.9" stroke="none"/>
<text x="691.23" y="600.5" font-size="23" textLength="13.84" lengthAdjust="spacingAndGlyphs">0</text>
<text x="814.09" y="600.5" font-size="23" textLength="27.89" lengthAdjust="spacingAndGlyphs">10</text>
<text x="843.16" y="584.7" font-size="23" textLength="12.32" lengthAdjust="spacingAndGlyphs">3</text>
<text x="883.56" y="600.5" font-size="23" textLength="26.89" lengthAdjust="spacingAndGlyphs">10</text>
<text x="911.73" y="584.7" font-size="23" textLength="13.91" lengthAdjust="spacingAndGlyphs">4</text>
<text x="170.18" y="1183.5" font-size="23" textLength="14.54" lengthAdjust="spacingAndGlyphs">0</text>
<text x="269.84" y="1183.5" font-size="23" textLength="28.56" lengthAdjust="spacingAndGlyphs">10</text>
<text x="299.45" y="1166.4" font-size="23" textLength="12.43" lengthAdjust="spacingAndGlyphs">3</text>
<text x="374.36" y="1183.5" font-size="23" textLength="26.89" lengthAdjust="spacingAndGlyphs">10</text>
<text x="403.68" y="1166.4" font-size="23" textLength="12.69" lengthAdjust="spacingAndGlyphs">4</text>
<text x="466.78" y="1183.5" font-size="23" textLength="28" lengthAdjust="spacingAndGlyphs">10</text>
<text x="495.8" y="1166.4" font-size="23" textLength="12.43" lengthAdjust="spacingAndGlyphs">5</text>
<text x="645.82" y="1178.8" font-size="23" textLength="13.96" lengthAdjust="spacingAndGlyphs">0</text>
<text x="750.44" y="1178.8" font-size="23" textLength="28.56" lengthAdjust="spacingAndGlyphs">10</text>
<text x="780.6" y="1162" font-size="23" textLength="11.73" lengthAdjust="spacingAndGlyphs">3</text>
<text x="874.61" y="1178.8" font-size="23" textLength="27.55" lengthAdjust="spacingAndGlyphs">10</text>
<text x="904.46" y="1162" font-size="23" textLength="13.13" lengthAdjust="spacingAndGlyphs">4</text>
</g>
<text x="79.83" y="640.8" font-size="44" font-weight="bold" textLength="213.78" lengthAdjust="spacingAndGlyphs" stroke="#000" stroke-width="0.4">NKG2D-PE</text>
<text x="85.24" y="1239.3" font-size="44" font-weight="bold" textLength="204.88" lengthAdjust="spacingAndGlyphs" stroke="#000" stroke-width="0.4">TIGIT-APC</text>
<rect x="317.8" y="626.2" width="646" height="3"/>
<path d="M962.3,617.9 L982.4,627.7 L962.3,637.5 Z"/>
<rect x="312.3" y="1223.1" width="646" height="3.1"/>
<path d="M957.1,1214.8 L977.2,1224.5 L957.1,1234.5 Z"/>
</svg>
</body></html>
